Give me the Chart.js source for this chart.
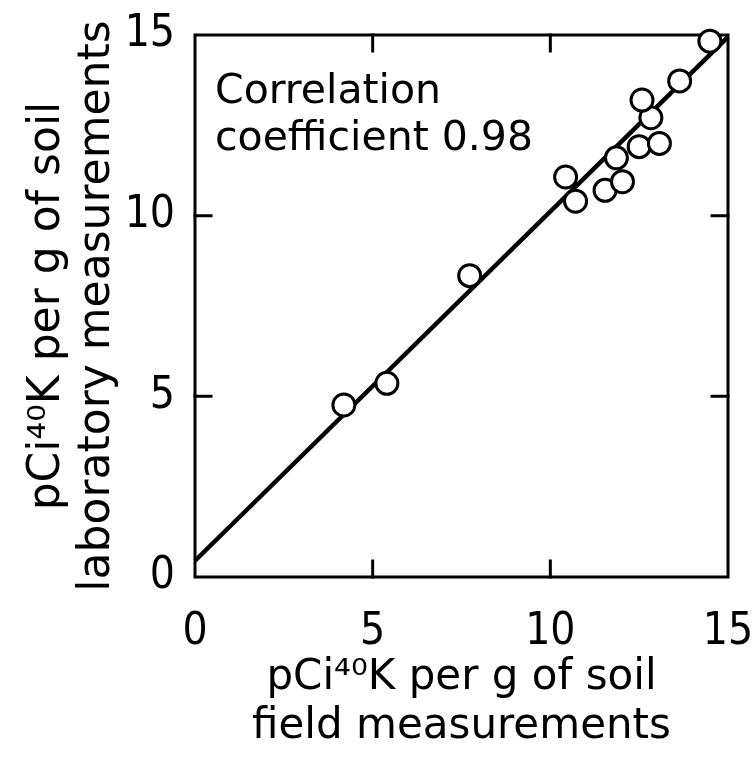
<!DOCTYPE html>
<html>
<head>
<meta charset="utf-8">
<script src="https://cdn.jsdelivr.net/npm/chart.js@4"></script>
<style>
  html, body { margin: 0; padding: 0; background: #fff; }
  #wrap { width: 753px; height: 757px; }
</style>
</head>
<body>
<div id="wrap"><canvas id="chart" width="753" height="757"></canvas></div>
<script>
// field (x) vs laboratory (y) measurements, pCi 40K per g of soil
const fieldValues = [4.19, 5.40, 7.73, 10.43, 10.71, 11.54, 12.03, 11.86, 12.50, 13.07, 12.83, 12.58, 13.64, 14.49];
const labValues   = [4.76, 5.36, 8.34, 11.07, 10.40, 10.70, 10.94, 11.60, 11.91, 12.00, 12.71, 13.20, 13.73, 14.83];

// regression line end points
const fitX = [0, 15];
const fitY = [0.45, 14.95];

const tickValues = [0, 5, 10, 15];
const innerTicks = [5, 10];

const xTitle = ['pCi\u2074\u2070K per g of soil', 'field measurements'];
const yTitle = ['pCi\u2074\u2070K per g of soil', 'laboratory measurements'];
const noteLines = ['Correlation', 'coefficient 0.98'];

const FONT = "'DejaVu Sans', sans-serif";
const TICK_FONT = "'DejaVu Sans Condensed', 'DejaVu Sans', sans-serif";

// frame and inward tick marks, drawn under the circles
const framePlugin = {
    id: 'frame',
    beforeDatasetsDraw(chart) {
        const ctx = chart.ctx;
        const a = chart.chartArea;
        const xs = chart.scales.x, ys = chart.scales.y;
        ctx.save();
        ctx.strokeStyle = '#000';
        ctx.lineWidth = 3;
        ctx.lineCap = 'square';
        ctx.strokeRect(a.left, a.top, a.right - a.left, a.bottom - a.top);
        const len = 16;
        ctx.beginPath();
        innerTicks.forEach(v => {
            const px = xs.getPixelForValue(v);
            ctx.moveTo(px, a.bottom); ctx.lineTo(px, a.bottom - len);
            ctx.moveTo(px, a.top); ctx.lineTo(px, a.top + len);
            const py = ys.getPixelForValue(v);
            ctx.moveTo(a.left, py); ctx.lineTo(a.left + len, py);
            ctx.moveTo(a.right, py); ctx.lineTo(a.right - len, py);
        });
        ctx.stroke();
        ctx.restore();
    },
    afterDatasetsDraw(chart) {
        const ctx = chart.ctx;
        const a = chart.chartArea;
        ctx.save();
        ctx.fillStyle = '#000';
        ctx.font = '41px ' + FONT;
        ctx.textBaseline = 'alphabetic';
        ctx.textAlign = 'left';
        noteLines.forEach((t, i) => {
            ctx.fillText(t, a.left + 20, a.top + 68 + i * 47);
        });
        ctx.restore();
    }
};

const ctx = document.getElementById('chart').getContext('2d');
new Chart(ctx, {
    data: {
        datasets: [{
            type: 'scatter',
            data: fieldValues.map((x, i) => ({x: x, y: labValues[i]})),
            pointRadius: 11,
            pointBorderWidth: 3,
            pointBackgroundColor: '#fff',
            pointBorderColor: '#000',
            clip: false,
            order: 1
        }, {
            type: 'line',
            data: fitX.map((x, i) => ({x: x, y: fitY[i]})),
            borderColor: '#000',
            borderWidth: 4.5,
            pointRadius: 0,
            fill: false,
            clip: false,
            order: 2
        }]
    },
    options: {
        responsive: false,
        animation: false,
        layout: { padding: { top: 35, right: 25, left: 0, bottom: 0 } },
        plugins: {
            legend: { display: false },
            tooltip: { enabled: false }
        },
        scales: {
            x: {
                type: 'linear',
                min: 0, max: 15,
                afterBuildTicks: s => { s.ticks = tickValues.map(v => ({value: v})); },
                afterFit: s => { s.height = 180; s.paddingLeft = 0; s.paddingRight = 0; },
                grid: { display: false, drawTicks: false },
                border: { display: false },
                ticks: {
                    color: '#000',
                    padding: 29,
                    maxRotation: 0,
                    font: { family: TICK_FONT, size: 44 }
                },
                title: {
                    display: true,
                    text: xTitle,
                    color: '#000',
                    font: { family: FONT, size: 42, lineHeight: 1.16 },
                    padding: { top: 0, bottom: 6 }
                }
            },
            y: {
                type: 'linear',
                min: 0, max: 15,
                afterBuildTicks: s => { s.ticks = tickValues.map(v => ({value: v})); },
                afterFit: s => { s.width = 195; s.paddingTop = 0; s.paddingBottom = 0; },
                grid: { display: false, drawTicks: false },
                border: { display: false },
                ticks: {
                    color: '#000',
                    padding: 20,
                    font: { family: TICK_FONT, size: 44 }
                },
                title: {
                    display: true,
                    text: yTitle,
                    color: '#000',
                    font: { family: FONT, size: 44, lineHeight: 1.14 },
                    padding: { top: 22, bottom: 0 }
                }
            }
        }
    },
    plugins: [framePlugin]
});
</script>
</body>
</html>
